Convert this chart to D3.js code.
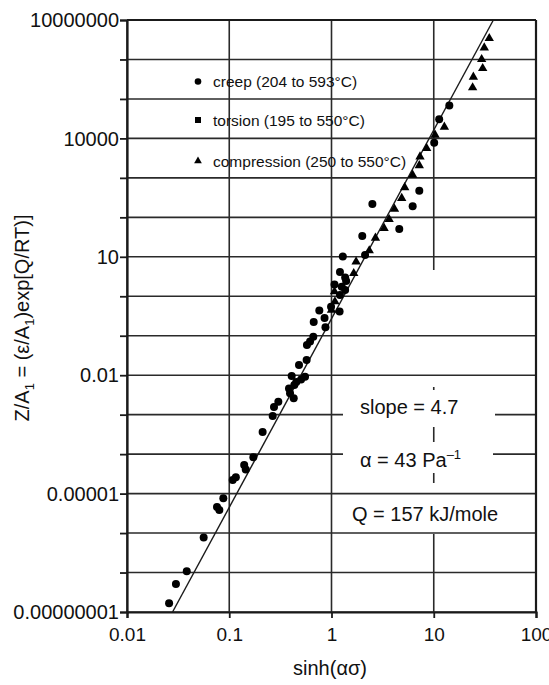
<!DOCTYPE html>
<html><head><meta charset="utf-8">
<script src="https://cdn.jsdelivr.net/npm/d3@7"></script>
<style>body{margin:0;background:#fff}svg{display:block}text{font-family:"Liberation Sans",Arial,Helvetica,sans-serif;fill:#111}</style>
</head><body>
<svg id="c" width="549" height="685"></svg>
<script>
// ---- data ----
const creepX = [14.2,11.3,10.1,7.22,6.22,2.51,4.60,2.00,2.13,1.29,1.21,1.36,1.39,1.07,1.26,1.36,1.21,0.99,0.76,1.20,0.855,0.67,0.873,0.664,0.617,0.575,0.571,0.481,0.408,0.551,0.504,0.453,0.433,0.384,0.393,0.427,0.302,0.274,0.266,0.212,0.172,0.140,0.145,0.116,0.108,0.0875,0.0759,0.080,0.0562,0.0384,0.0301,0.0258];
const creepY = [6.8e4,3.05e4,7780,473,190,218,50.7,33.7,11.1,10.2,4.12,2.99,2.44,1.99,1.75,1.44,1.08,0.545,0.437,0.412,0.282,0.223,0.164,0.0947,0.0716,0.0583,0.0243,0.0182,0.00955,0.00918,0.0078,0.00673,0.00565,0.00461,0.00348,0.0026,0.00213,0.00157,0.000927,0.000365,8.3e-5,5.3e-5,4.1e-5,2.6e-5,2.2e-5,7.6e-6,4.6e-6,3.85e-6,7.7e-7,1.08e-7,5.1e-8,1.66e-8];
const compX = [34.9,31.2,29.4,30.1,24.4,24.0,12.7,10.3,8.53,7.34,7.22,6.22,5.20,4.86,4.13,3.66,3.27,2.69,2.34,1.74,1.65,1.07,1.08,1.0];
const compY = [3.44e6,1.99e6,1.01e6,5.97e5,3.6e5,1.93e5,1.95e4,1.22e4,5610,3440,2060,1180,570,304,163,89,52.8,30,14.3,7.52,3.82,1.31,0.73,0.45];
const fitX = [0.0279, 38.3];
const fitY = [1e-8, 1e7];
const xTicks = [0.01, 0.1, 1, 10, 100];
const xTickLabels = ["0.01", "0.1", "1", "10", "100"];
const yDecades = [1e-8,1e-7,1e-6,1e-5,1e-4,1e-3,1e-2,1e-1,1,10,100,1e3,1e4,1e5,1e6,1e7];
const yTicks = [1e7, 1e4, 10, 0.01, 1e-5, 1e-8];
const yTickLabels = ["10000000", "10000", "10", "0.01", "0.00001", "0.00000001"];
const legendLabels = ["creep (204 to 593°C)", "torsion (195 to 550°C)", "compression (250 to 550°C)"];
const legendShapes = ["circle", "square", "triangle"];

// ---- layout ----
const L = 127, R = 536, T = 20, B = 612;
const svg = d3.select("#c");
const x = d3.scaleLog().domain([0.01, 100]).range([L, R]);
const y = d3.scaleLog().domain([1e-8, 1e7]).range([B, T]);
const ink = "#1a1a1a";

// grid
const g = svg.append("g");
g.selectAll("line.h").data(yDecades).join("line")
  .attr("x1", L).attr("x2", R).attr("y1", d => y(d)).attr("y2", d => y(d))
  .attr("stroke", "#2a2a2a").attr("stroke-width", 1.6);
g.selectAll("line.v").data(xTicks).join("line")
  .attr("y1", T).attr("y2", B).attr("x1", d => x(d)).attr("x2", d => x(d))
  .attr("stroke", "#2a2a2a").attr("stroke-width", 1.6)
  // the x = 10 gridline is interrupted behind the annotation block in the original
  .attr("stroke-dasharray", d => d === 10 ? "250,117,3,37,16,30,10,51,80" : null);

// annotation boxes (white backgrounds that break the grid)
const ann = svg.append("g");
ann.append("rect").attr("x", 343).attr("y", 394).attr("width", 152).attr("height", 30).attr("fill", "#fff");
ann.append("rect").attr("x", 343).attr("y", 442).attr("width", 150).attr("height", 30).attr("fill", "#fff");

// axes
const yAxis = d3.axisLeft(y).tickValues(yDecades).tickSize(7).tickFormat("");
svg.append("g").attr("transform", `translate(${L},0)`).call(yAxis)
  .call(a => a.selectAll("line").attr("stroke", ink).attr("stroke-width", 1.8))
  .call(a => a.select(".domain").attr("stroke", ink).attr("stroke-width", 2.2));
svg.append("g").selectAll("text").data(yTicks).join("text")
  .attr("x", L - 8).attr("y", d => y(d)).attr("dy", "0.36em")
  .attr("text-anchor", "end").attr("font-size", 20)
  .text((d, i) => yTickLabels[i]);

const xAxis = d3.axisBottom(x).tickValues(xTicks).tickSize(6).tickFormat((d, i) => xTickLabels[i]);
svg.append("g").attr("transform", `translate(0,${B})`).call(xAxis)
  .call(a => a.selectAll("line").attr("stroke", ink).attr("stroke-width", 1.8))
  .call(a => a.select(".domain").attr("stroke", ink).attr("stroke-width", 2.2))
  .call(a => a.selectAll("text").attr("font-size", 19).attr("dy", "1.05em")
    .style("font-family", '"Liberation Sans",Arial,sans-serif').attr("fill", "#111"));

// frame top & right
svg.append("line").attr("x1", L).attr("x2", R).attr("y1", T).attr("y2", T).attr("stroke", ink).attr("stroke-width", 2.2);
svg.append("line").attr("x1", R).attr("x2", R).attr("y1", T).attr("y2", B).attr("stroke", ink).attr("stroke-width", 2.2);

// fit line
svg.append("path")
  .attr("d", d3.line().x(d => x(d[0])).y(d => y(d[1]))(fitX.map((v, i) => [v, fitY[i]])))
  .attr("stroke", ink).attr("stroke-width", 1.4).attr("fill", "none");

// data
svg.append("g").selectAll("circle").data(creepX.map((v, i) => [v, creepY[i]])).join("circle")
  .attr("cx", d => x(d[0])).attr("cy", d => y(d[1])).attr("r", 4).attr("fill", "#000");
const tri = d3.symbol().type(d3.symbolTriangle).size(38);
svg.append("g").selectAll("path").data(compX.map((v, i) => [v, compY[i]])).join("path")
  .attr("transform", d => `translate(${x(d[0])},${y(d[1])})`).attr("d", tri).attr("fill", "#000");

// legend
const lg = svg.append("g");
const legY = [81.5, 120, 161];
legendLabels.forEach((lab, i) => {
  const yy = legY[i];
  if (legendShapes[i] === "circle") lg.append("circle").attr("cx", 198).attr("cy", yy).attr("r", 3.3).attr("fill", "#000");
  else if (legendShapes[i] === "square") lg.append("rect").attr("x", 195).attr("y", yy - 3).attr("width", 6).attr("height", 6).attr("fill", "#000");
  else lg.append("path").attr("transform", `translate(198,${yy})`).attr("d", d3.symbol().type(d3.symbolTriangle).size(26)).attr("fill", "#000");
  lg.append("text").attr("x", 213).attr("y", yy).attr("dy", "0.36em").attr("font-size", 15.5).text(lab);
});

// annotations
svg.append("text").attr("x", 360).attr("y", 414).attr("font-size", 20).text("slope = 4.7");
const a2 = svg.append("text").attr("x", 360).attr("y", 467).attr("font-size", 20);
a2.append("tspan").text("α = 43 Pa");
a2.append("tspan").attr("font-size", 13).attr("dy", -8).text("–1");
svg.append("text").attr("x", 352).attr("y", 521).attr("font-size", 20).text("Q = 157 kJ/mole");

// axis titles
svg.append("text").attr("x", 330).attr("y", 675).attr("text-anchor", "middle").attr("font-size", 20).text("sinh(ασ)");
const yt = svg.append("text").attr("transform", "translate(29,318) rotate(-90)").attr("text-anchor", "middle").attr("font-size", 20);
yt.append("tspan").text("Z/A");
yt.append("tspan").attr("font-size", 13).attr("dy", 5).text("1");
yt.append("tspan").attr("dy", -5).text(" = (ε/A");
yt.append("tspan").attr("font-size", 13).attr("dy", 5).text("1");
yt.append("tspan").attr("dy", -5).text(")exp[Q/RT)]");
</script>
</body></html>
